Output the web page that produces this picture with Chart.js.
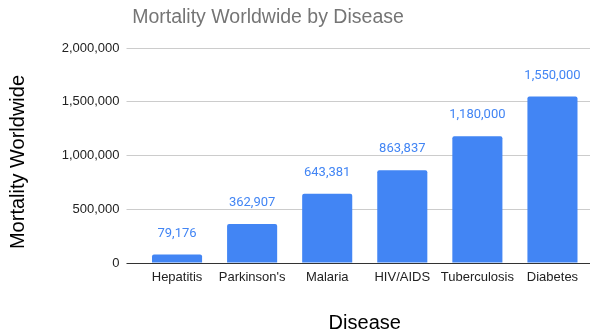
<!DOCTYPE html>
<html>
<head>
<meta charset="utf-8">
<script src="https://cdn.jsdelivr.net/npm/chart.js@4/dist/chart.umd.min.js"></script>
<style>
  html, body { margin: 0; padding: 0; background: #fff; }
  #wrap { width: 598px; height: 334px; }
</style>
</head>
<body>
<div id="wrap"><canvas id="c" width="598" height="334"></canvas></div>
<script>
// Annual deaths by disease
const diseases = ["Hepatitis", "Parkinson's", "Malaria", "HIV/AIDS", "Tuberculosis", "Diabetes"];
const deaths = [79176, 362907, 643381, 863837, 1180000, 1550000];
const yTicks = [0, 500000, 1000000, 1500000, 2000000];

const chartTitle = "Mortality Worldwide by Disease";
const yTitle = "Mortality Worldwide";
const xTitle = "Disease";

const BLUE = "#4285f4";
const SANS = "'Liberation Sans', Arial, sans-serif";
const fmt = v => v.toLocaleString("en-US");

// Chart title and rotated value-axis title, drawn as canvas text
const titlePlugin = {
  id: "sheetTitles",
  afterDraw(chart) {
    const ctx = chart.ctx;
    ctx.save();
    ctx.font = "19.5px " + SANS;
    ctx.fillStyle = "#757575";
    ctx.textAlign = "center";
    ctx.textBaseline = "middle";
    ctx.fillText(chartTitle, 268, 18);

    ctx.font = "20px " + SANS;
    ctx.fillStyle = "#000";
    ctx.translate(18, 162);
    ctx.rotate(-Math.PI / 2);
    ctx.fillText(yTitle, 0, 0);
    ctx.restore();
  }
};

// Value labels above each bar
const valueLabels = {
  id: "valueLabels",
  afterDatasetsDraw(chart) {
    const ctx = chart.ctx;
    const meta = chart.getDatasetMeta(0);
    ctx.save();
    ctx.font = "13px Roboto, " + SANS;
    ctx.fillStyle = BLUE;
    ctx.textAlign = "center";
    ctx.textBaseline = "middle";
    meta.data.forEach((bar, i) => {
      ctx.fillText(fmt(deaths[i]), bar.x, bar.y - 21);
    });
    ctx.restore();
  }
};

new Chart(document.getElementById("c"), {
  type: "bar",
  data: {
    labels: diseases,
    datasets: [{
      data: deaths,
      backgroundColor: BLUE,
      borderRadius: { topLeft: 2, topRight: 2 },
      borderSkipped: "bottom",
      barPercentage: 0.667,
      categoryPercentage: 1.0
    }]
  },
  options: {
    responsive: false,
    animation: false,
    layout: { padding: { top: 48, right: 8, bottom: 0, left: 0 } },
    plugins: {
      legend: { display: false },
      title: { display: false },
      tooltip: { enabled: false }
    },
    scales: {
      x: {
        grid: { display: false, drawTicks: false },
        border: { display: false },
        ticks: {
          color: "#222",
          font: { family: SANS, size: 13 },
          padding: 7,
          maxRotation: 0,
          autoSkip: false
        },
        title: {
          display: true,
          text: xTitle,
          color: "#000",
          font: { family: SANS, size: 20 },
          padding: { top: 0, bottom: -1 }
        },
        afterFit(scale) { scale.height = 71; }
      },
      y: {
        min: 0,
        max: 2000000,
        afterBuildTicks(scale) { scale.ticks = yTicks.map(v => ({ value: v })); },
        grid: {
          color: c => (c.tick && c.tick.value === 0 ? "#333" : "#cccccc"),
          lineWidth: 1,
          drawTicks: true,
          tickLength: 13
        },
        border: { display: false },
        ticks: {
          color: "#222",
          font: { family: SANS, size: 13 },
          padding: 7,
          callback: v => fmt(v)
        },
        title: { display: false },
        afterFit(scale) { scale.width = 139.5; }
      }
    }
  },
  plugins: [titlePlugin, valueLabels]
});
</script>
</body>
</html>
